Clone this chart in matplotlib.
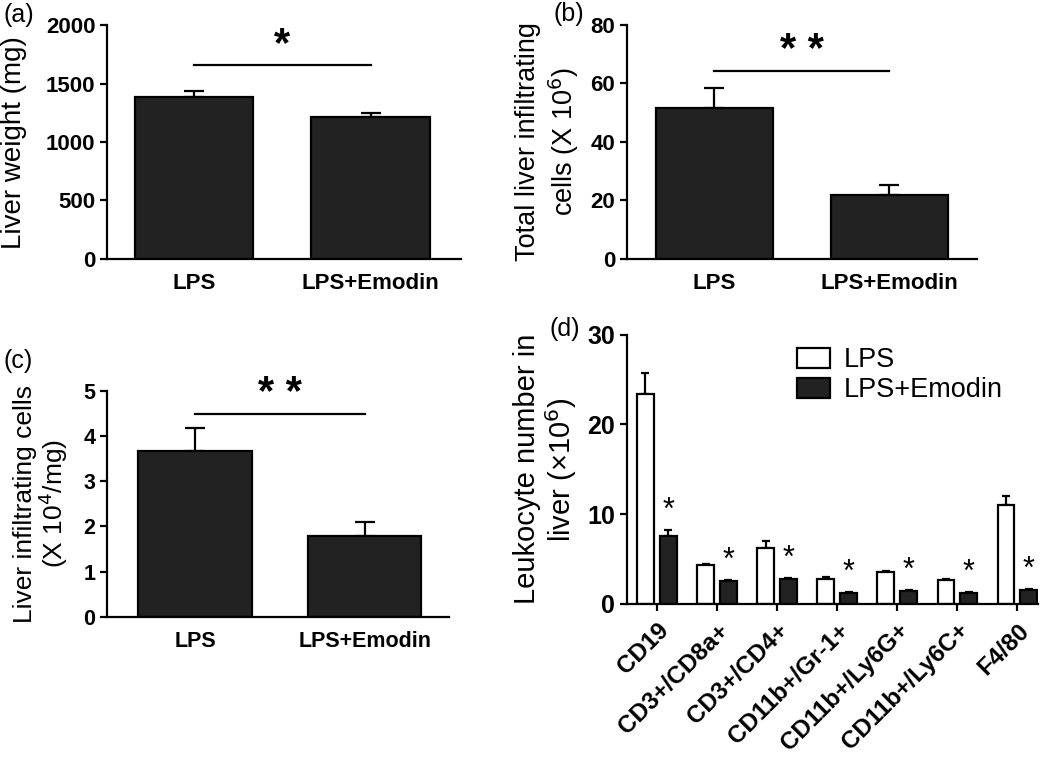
import matplotlib
matplotlib.use("Agg")
import matplotlib.pyplot as plt
import numpy as np

plt.rcParams['font.family'] = ['Liberation Sans', 'DejaVu Sans']

groups = ["LPS", "LPS+Emodin"]

# (a) liver weight
weight_mean = [1385, 1211]
weight_err = [55, 35]

# (b) total infiltrating cells (x10^6)
total_mean = [51.4, 21.7]
total_err = [7.0, 3.5]

# (c) infiltrating cells per mg (x10^4/mg)
permg_mean = [3.66, 1.79]
permg_err = [0.52, 0.30]

# (d) leukocyte subsets (x10^6)
subsets = ["CD19", "CD3+/CD8a+", "CD3+/CD4+", "CD11b+/Gr-1+",
           "CD11b+/Ly6G+", "CD11b+/Ly6C+", "F4/80"]
lps_mean = [23.4, 4.3, 6.2, 2.8, 3.5, 2.6, 11.0]
lps_err = [2.3, 0.1, 0.8, 0.15, 0.15, 0.15, 1.0]
emo_mean = [7.6, 2.5, 2.7, 1.2, 1.4, 1.2, 1.55]
emo_err = [0.6, 0.1, 0.15, 0.1, 0.1, 0.05, 0.1]

BAR = "#222222"
LW = 1.6


def style_axes(ax, tick_size):
    for s in ["top", "right"]:
        ax.spines[s].set_visible(False)
    for s in ["left", "bottom"]:
        ax.spines[s].set_linewidth(LW)
    ax.tick_params(axis="y", direction="out", width=LW, length=5, labelsize=tick_size)
    for lab in ax.get_yticklabels():
        lab.set_fontweight("bold")


def split_ylabel(ax, lines, xs, size):
    # two-line y label drawn as separate lines
    for txt, x in zip(lines, xs):
        ax.text(x, 0.5, txt, transform=ax.transAxes, rotation=90,
                ha="center", va="center", fontsize=size)


def two_bar(ax, means, errs, ylim, yticks, stars, sig_y, xlim, tick_size=16):
    x = np.arange(len(groups))
    ax.bar(x, means, width=0.67, color=BAR, edgecolor="black", linewidth=LW, zorder=2)
    ax.errorbar(x, means, yerr=[np.zeros(len(errs)), errs], fmt="none",
                ecolor="black", elinewidth=LW, capsize=7, capthick=LW, zorder=1)
    ax.set_xlim(*xlim)
    ax.set_ylim(*ylim)
    ax.set_yticks(yticks)
    ax.set_xticks(x)
    ax.set_xticklabels(groups, fontsize=tick_size, fontweight="bold")
    ax.tick_params(axis="x", length=0, pad=10)
    style_axes(ax, tick_size)
    ax.plot([0.0, 1.0], [sig_y, sig_y], color="black", lw=LW, clip_on=False)
    ax.text(0.5, sig_y, stars, ha="center", va="bottom", fontsize=30,
            fontweight="bold")


fig = plt.figure(figsize=(10.5, 7.68), dpi=100)

ax_a = fig.add_axes([0.102, 0.663, 0.337, 0.304])
two_bar(ax_a, weight_mean, weight_err, (0, 2000), [0, 500, 1000, 1500, 2000],
        "*", 1658, (-0.49, 1.51))
ax_a.set_ylabel("Liver weight (mg)", fontsize=20)
ax_a.yaxis.set_label_coords(-0.225, 0.5)

ax_b = fig.add_axes([0.597, 0.663, 0.333, 0.305])
two_bar(ax_b, total_mean, total_err, (0, 80), [0, 20, 40, 60, 80],
        "* *", 64, (-0.5, 1.5))
split_ylabel(ax_b, ["Total liver infiltrating", "cells (X 10$^6$)"],
             [-0.283, -0.18], 19.5)

ax_c = fig.add_axes([0.102, 0.197, 0.326, 0.294])
two_bar(ax_c, permg_mean, permg_err, (0, 5), [0, 1, 2, 3, 4, 5],
        "* *", 4.49, (-0.52, 1.5), tick_size=15.5)
ax_c.set_ylabel("Liver infiltrating cells\n(X 10$^4$/mg)", fontsize=19, linespacing=1.0)
ax_c.yaxis.set_label_coords(-0.108, 0.5)

# (d) grouped bars
ax_d = fig.add_axes([0.597, 0.214, 0.392, 0.35])
xd = np.arange(len(subsets))
off = 0.19
w = 0.28
ax_d.bar(xd - off, lps_mean, width=w, color="white", edgecolor="black",
         linewidth=LW, label="LPS", zorder=2)
ax_d.bar(xd + off, emo_mean, width=w, color=BAR, edgecolor="black",
         linewidth=LW, label="LPS+Emodin", zorder=2)
ax_d.errorbar(xd - off, lps_mean, yerr=[np.zeros(len(lps_err)), lps_err],
              fmt="none", ecolor="black", elinewidth=LW, capsize=3, capthick=LW, zorder=1)
ax_d.errorbar(xd + off, emo_mean, yerr=[np.zeros(len(emo_err)), emo_err],
              fmt="none", ecolor="black", elinewidth=LW, capsize=3, capthick=LW, zorder=1)
for xi, m, e in zip(xd, emo_mean, emo_err):
    ax_d.annotate("*", (xi + off, m + e), xytext=(0, 3), textcoords="offset points",
                  ha="center", va="bottom", fontsize=22)
ax_d.set_xlim(-0.5, 6.35)
ax_d.set_ylim(0, 30)
ax_d.set_yticks([0, 10, 20, 30])
ax_d.set_xticks(xd)
ax_d.set_xticklabels(subsets, rotation=45, ha="right", rotation_mode="anchor",
                     fontsize=17.5, fontweight="bold")
ax_d.tick_params(axis="x", direction="out", width=LW, length=5, pad=6)
split_ylabel(ax_d, ["Leukocyte number in", "liver (\u00d710$^6$)"],
             [-0.243, -0.16], 21)
style_axes(ax_d, 18)
ax_d.legend(loc="upper left", bbox_to_anchor=(0.355, 1.045), frameon=False,
            fontsize=19.5, handlelength=1.2, handleheight=0.75, labelspacing=0.15,
            handletextpad=0.5)

fig.text(0.003, 0.98, "(a)", fontsize=18, va="center")
fig.text(0.527, 0.982, "(b)", fontsize=18, va="center")
fig.text(0.003, 0.53, "(c)", fontsize=18, va="center")
fig.text(0.523, 0.572, "(d)", fontsize=18, va="center")

fig.savefig("out.png", dpi=100)
